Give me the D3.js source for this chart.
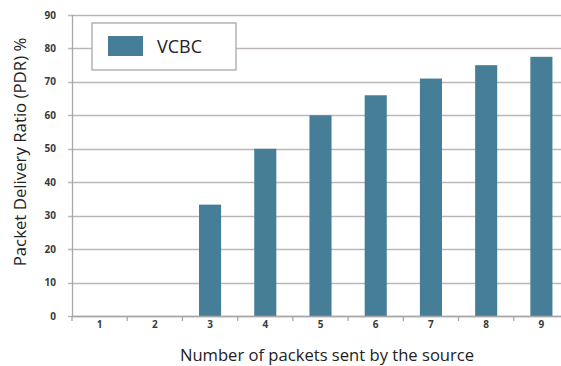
<!DOCTYPE html>
<html>
<head>
<meta charset="utf-8">
<script src="https://d3js.org/d3.v7.min.js"></script>
<style>
  body { margin: 0; background: #fff; }
  svg { display: block; font-family: "Open Sans", sans-serif; }
</style>
</head>
<body>
<svg id="chart" width="561" height="366"></svg>
<script>
// Data
const categories = ['1', '2', '3', '4', '5', '6', '7', '8', '9'];
const pdrValues = [0, 0, 33.3, 50, 60, 66, 71, 75, 77.5];
const yTicks = [0, 10, 20, 30, 40, 50, 60, 70, 80, 90];
const seriesName = 'VCBC';

const barColor = '#477e97';
const gridColor = '#bcb6b6';

const margin = { top: 15, left: 72 };
const plotW = 497;   // plot runs past the right edge of the picture
const plotH = 301;

const svg = d3.select('#chart');
const g = svg.append('g').attr('transform', `translate(${margin.left},${margin.top})`);

const x = d3.scaleBand().domain(categories).range([0, plotW]).paddingInner(0.6).paddingOuter(0.3);
const xEdges = d3.scaleLinear().domain([0, categories.length]).range([0, plotW]);
const y = d3.scaleLinear().domain([0, 90]).range([plotH, 0]);

// Gridlines + left ticks
g.selectAll('.grid')
  .data(yTicks)
  .enter()
  .append('line')
  .attr('x1', -4)
  .attr('x2', plotW)
  .attr('y1', d => Math.round(y(d)) + 0.5)
  .attr('y2', d => Math.round(y(d)) + 0.5)
  .attr('stroke', gridColor)
  .attr('stroke-width', 1.3);

// Y tick labels
g.selectAll('.ylab')
  .data(yTicks)
  .enter()
  .append('text')
  .attr('x', -16)
  .attr('y', d => y(d))
  .attr('dy', '0.35em')
  .attr('text-anchor', 'end')
  .attr('font-size', 10)
  .attr('font-weight', 'bold')
  .attr('fill', '#3a3a3a')
  .text(d => d);

// Bars
g.selectAll('.bar')
  .data(pdrValues)
  .enter()
  .append('rect')
  .attr('x', (d, i) => x(categories[i]))
  .attr('width', x.bandwidth())
  .attr('y', d => y(d))
  .attr('height', d => plotH - y(d))
  .attr('fill', barColor);

// Axes lines
g.append('line')
  .attr('x1', 0.5).attr('x2', 0.5)
  .attr('y1', 0).attr('y2', plotH)
  .attr('stroke', '#a8a8a8').attr('stroke-width', 1.3);

g.append('line')
  .attr('x1', 0).attr('x2', plotW)
  .attr('y1', plotH + 0.5).attr('y2', plotH + 0.5)
  .attr('stroke', '#a8a8a8').attr('stroke-width', 1.3);

// X ticks between categories
g.selectAll('.xtick')
  .data(d3.range(categories.length + 1))
  .enter()
  .append('line')
  .attr('x1', d => xEdges(d))
  .attr('x2', d => xEdges(d))
  .attr('y1', plotH)
  .attr('y2', plotH + 5)
  .attr('stroke', '#a8a8a8')
  .attr('stroke-width', 1.3);

// X tick labels
g.selectAll('.xlab')
  .data(categories)
  .enter()
  .append('text')
  .attr('x', d => x(d) + x.bandwidth() / 2)
  .attr('y', plotH + 12)
  .attr('text-anchor', 'middle')
  .attr('font-size', 10)
  .attr('font-weight', 'bold')
  .attr('fill', '#3a3a3a')
  .text(d => d);

// Axis titles
svg.append('text')
  .attr('x', 327)
  .attr('y', 361)
  .attr('text-anchor', 'middle')
  .attr('font-size', 16.6)
  .attr('fill', '#222')
  .text('Number of packets sent by the source');

svg.append('text')
  .attr('transform', 'translate(26,152) rotate(-90)')
  .attr('text-anchor', 'middle')
  .attr('font-size', 16.8)
  .attr('fill', '#222')
  .text('Packet Delivery Ratio (PDR) %');

// Legend
const legend = svg.append('g').attr('transform', 'translate(92,23)');
legend.append('rect')
  .attr('width', 144).attr('height', 47)
  .attr('fill', '#fff')
  .attr('stroke', '#a8a8a8').attr('stroke-width', 1.3);
legend.append('rect')
  .attr('x', 16).attr('y', 13)
  .attr('width', 35).attr('height', 20)
  .attr('fill', barColor);
legend.append('text')
  .attr('x', 65).attr('y', 30)
  .attr('font-size', 18)
  .attr('fill', '#222')
  .text(seriesName);
</script>
</body>
</html>
